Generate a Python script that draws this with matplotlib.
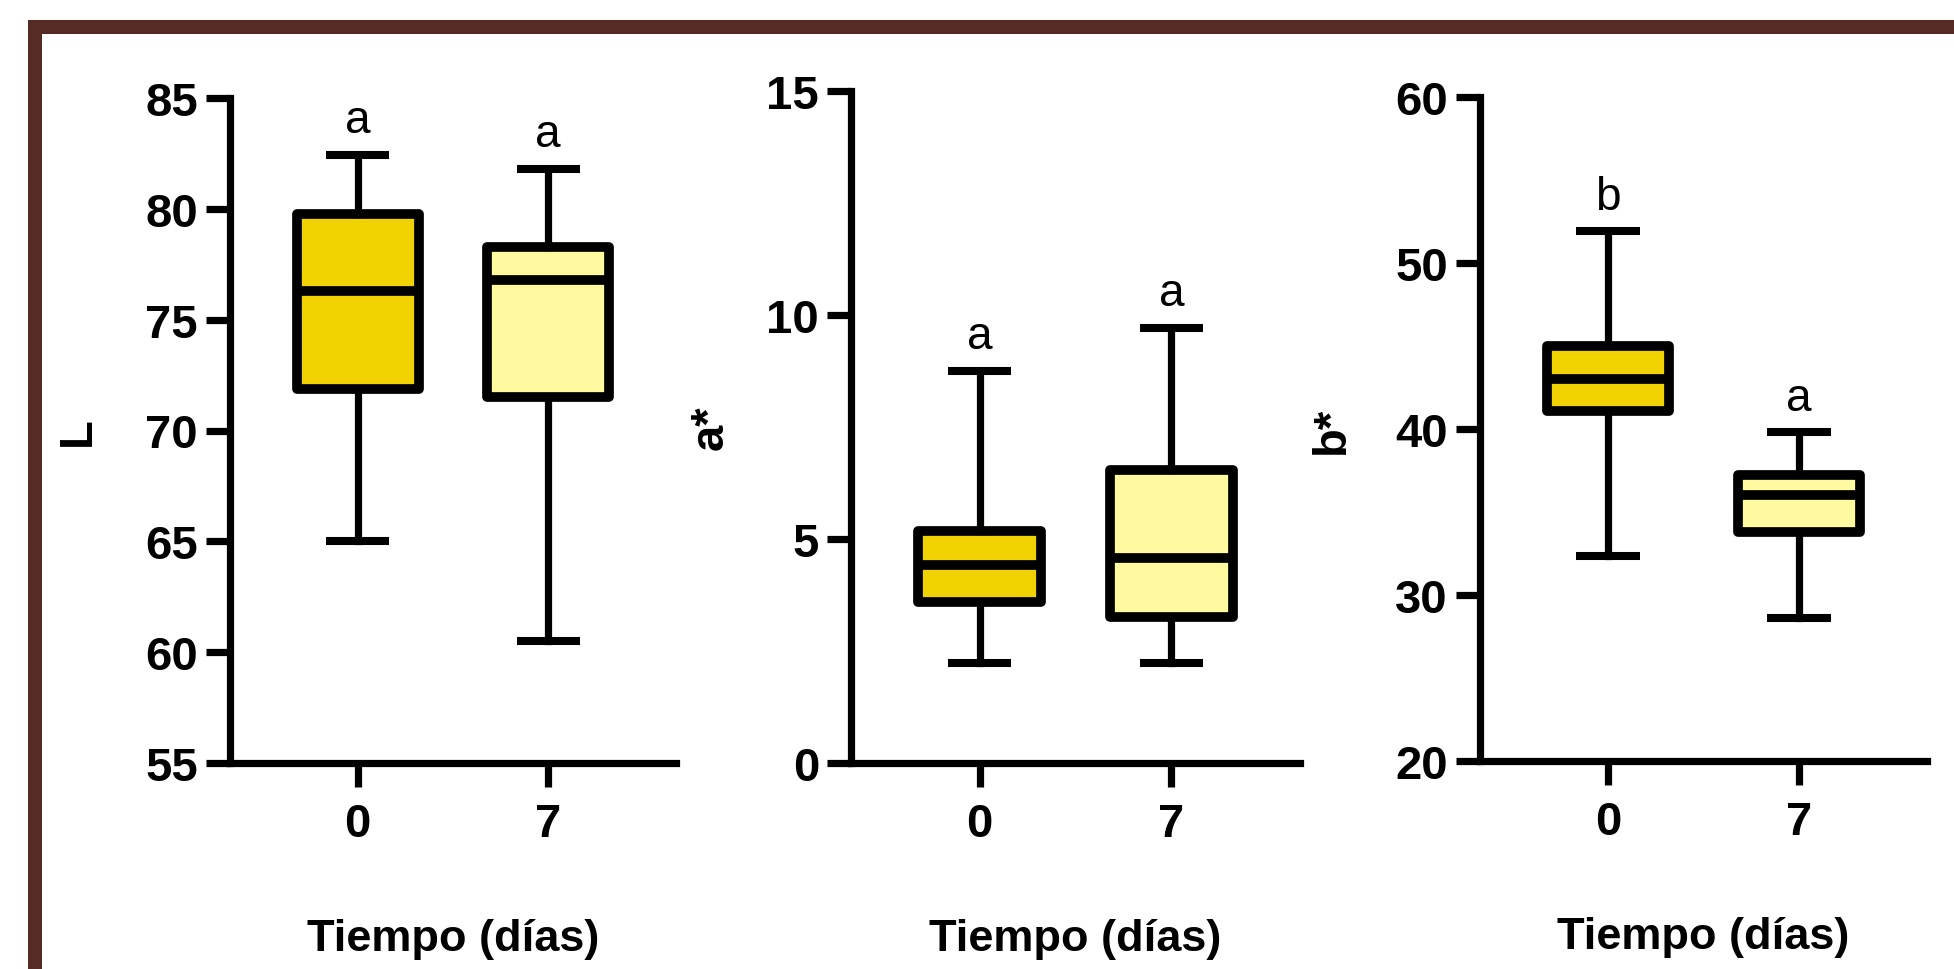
import matplotlib
matplotlib.use("Agg")
import matplotlib.pyplot as plt
from matplotlib.patches import Rectangle

plt.rcParams["font.family"] = ["Liberation Sans", "DejaVu Sans"]

# data
days = ["0", "7"]
colors = ["#EFD200", "#FFFAA0"]

L_whislo = [65.0, 60.5]
L_q1 = [71.85, 71.5]
L_med = [76.3, 76.8]
L_q3 = [79.75, 78.3]
L_whishi = [82.45, 81.8]
L_letters = ["a", "a"]

a_whislo = [2.23, 2.23]
a_q1 = [3.59, 3.26]
a_med = [4.42, 4.58]
a_q3 = [5.18, 6.54]
a_whishi = [8.76, 9.71]
a_letters = ["a", "a"]

b_whislo = [32.35, 28.6]
b_q1 = [41.1, 33.8]
b_med = [43.0, 36.0]
b_q3 = [45.0, 37.2]
b_whishi = [51.9, 39.8]
b_letters = ["b", "a"]

W, H = 1954, 970
AXLW = 5.2
BOXLW = 7.0


def make_stats(lo, q1, med, q3, hi):
    stats = []
    for i in range(len(days)):
        stats.append({"label": days[i], "whislo": lo[i], "q1": q1[i],
                      "med": med[i], "q3": q3[i], "whishi": hi[i], "fliers": []})
    return stats


def draw_panel(ax, stats, letters, ylabel, ylim, yticks, labelpad):
    bp = ax.bxp(stats, positions=[1, 2], widths=0.64, patch_artist=True,
                showfliers=False, capwidths=0.33,
                boxprops=dict(linewidth=BOXLW, edgecolor="black", joinstyle="round"),
                medianprops=dict(linewidth=BOXLW, color="black", solid_capstyle="butt"),
                whiskerprops=dict(linewidth=AXLW, color="black"),
                capprops=dict(linewidth=5.8, color="black", solid_capstyle="butt"))
    for patch, c in zip(bp["boxes"], colors):
        patch.set_facecolor(c)
    for i, s in enumerate(stats):
        ax.annotate(letters[i], (i + 1, s["whishi"]), xytext=(0, 25),
                    textcoords="offset points", ha="center", va="center",
                    fontsize=33)
    ax.set_xlim(0.33, 2.67)
    ax.set_ylim(*ylim)
    ax.set_yticks(yticks)
    ax.set_xticks([1, 2])
    ax.set_xticklabels(days)
    for side in ["top", "right"]:
        ax.spines[side].set_visible(False)
    for side in ["left", "bottom"]:
        ax.spines[side].set_linewidth(AXLW)
    ax.tick_params(axis="both", length=17, width=AXLW, labelsize=34)
    ax.tick_params(axis="y", pad=6)
    ax.tick_params(axis="x", pad=11)
    for lab in ax.get_xticklabels() + ax.get_yticklabels():
        lab.set_fontweight("bold")
    ax.set_ylabel(ylabel, fontsize=34, fontweight="bold", labelpad=labelpad)
    ax.set_xlabel("Tiempo (días)", fontsize=32.5, fontweight="bold", labelpad=52)


fig = plt.figure(figsize=(W / 100, H / 100), dpi=100)

ax1 = fig.add_axes([230 / W, 206 / H, 446 / W, 665 / H])
ax2 = fig.add_axes([851 / W, 206 / H, 449 / W, 672 / H])
ax3 = fig.add_axes([1480 / W, 208 / H, 447 / W, 664 / H])

draw_panel(ax1, make_stats(L_whislo, L_q1, L_med, L_q3, L_whishi), L_letters,
           "L", (55, 85), range(55, 86, 5), 33)
draw_panel(ax2, make_stats(a_whislo, a_q1, a_med, a_q3, a_whishi), a_letters,
           "a*", (0, 15), range(0, 16, 5), 24)
draw_panel(ax3, make_stats(b_whislo, b_q1, b_med, b_q3, b_whishi), b_letters,
           "b*", (20, 60), range(20, 61, 10), 30)

# brown frame (top and left bands)
brown = "#562B26"
fig.add_artist(Rectangle((28 / W, 0), 14 / W, (H - 21) / H,
                         transform=fig.transFigure, color=brown, lw=0))
fig.add_artist(Rectangle((28 / W, (H - 35) / H), (W - 28) / W, 14 / H,
                         transform=fig.transFigure, color=brown, lw=0))

fig.savefig("out.png", dpi=100)
